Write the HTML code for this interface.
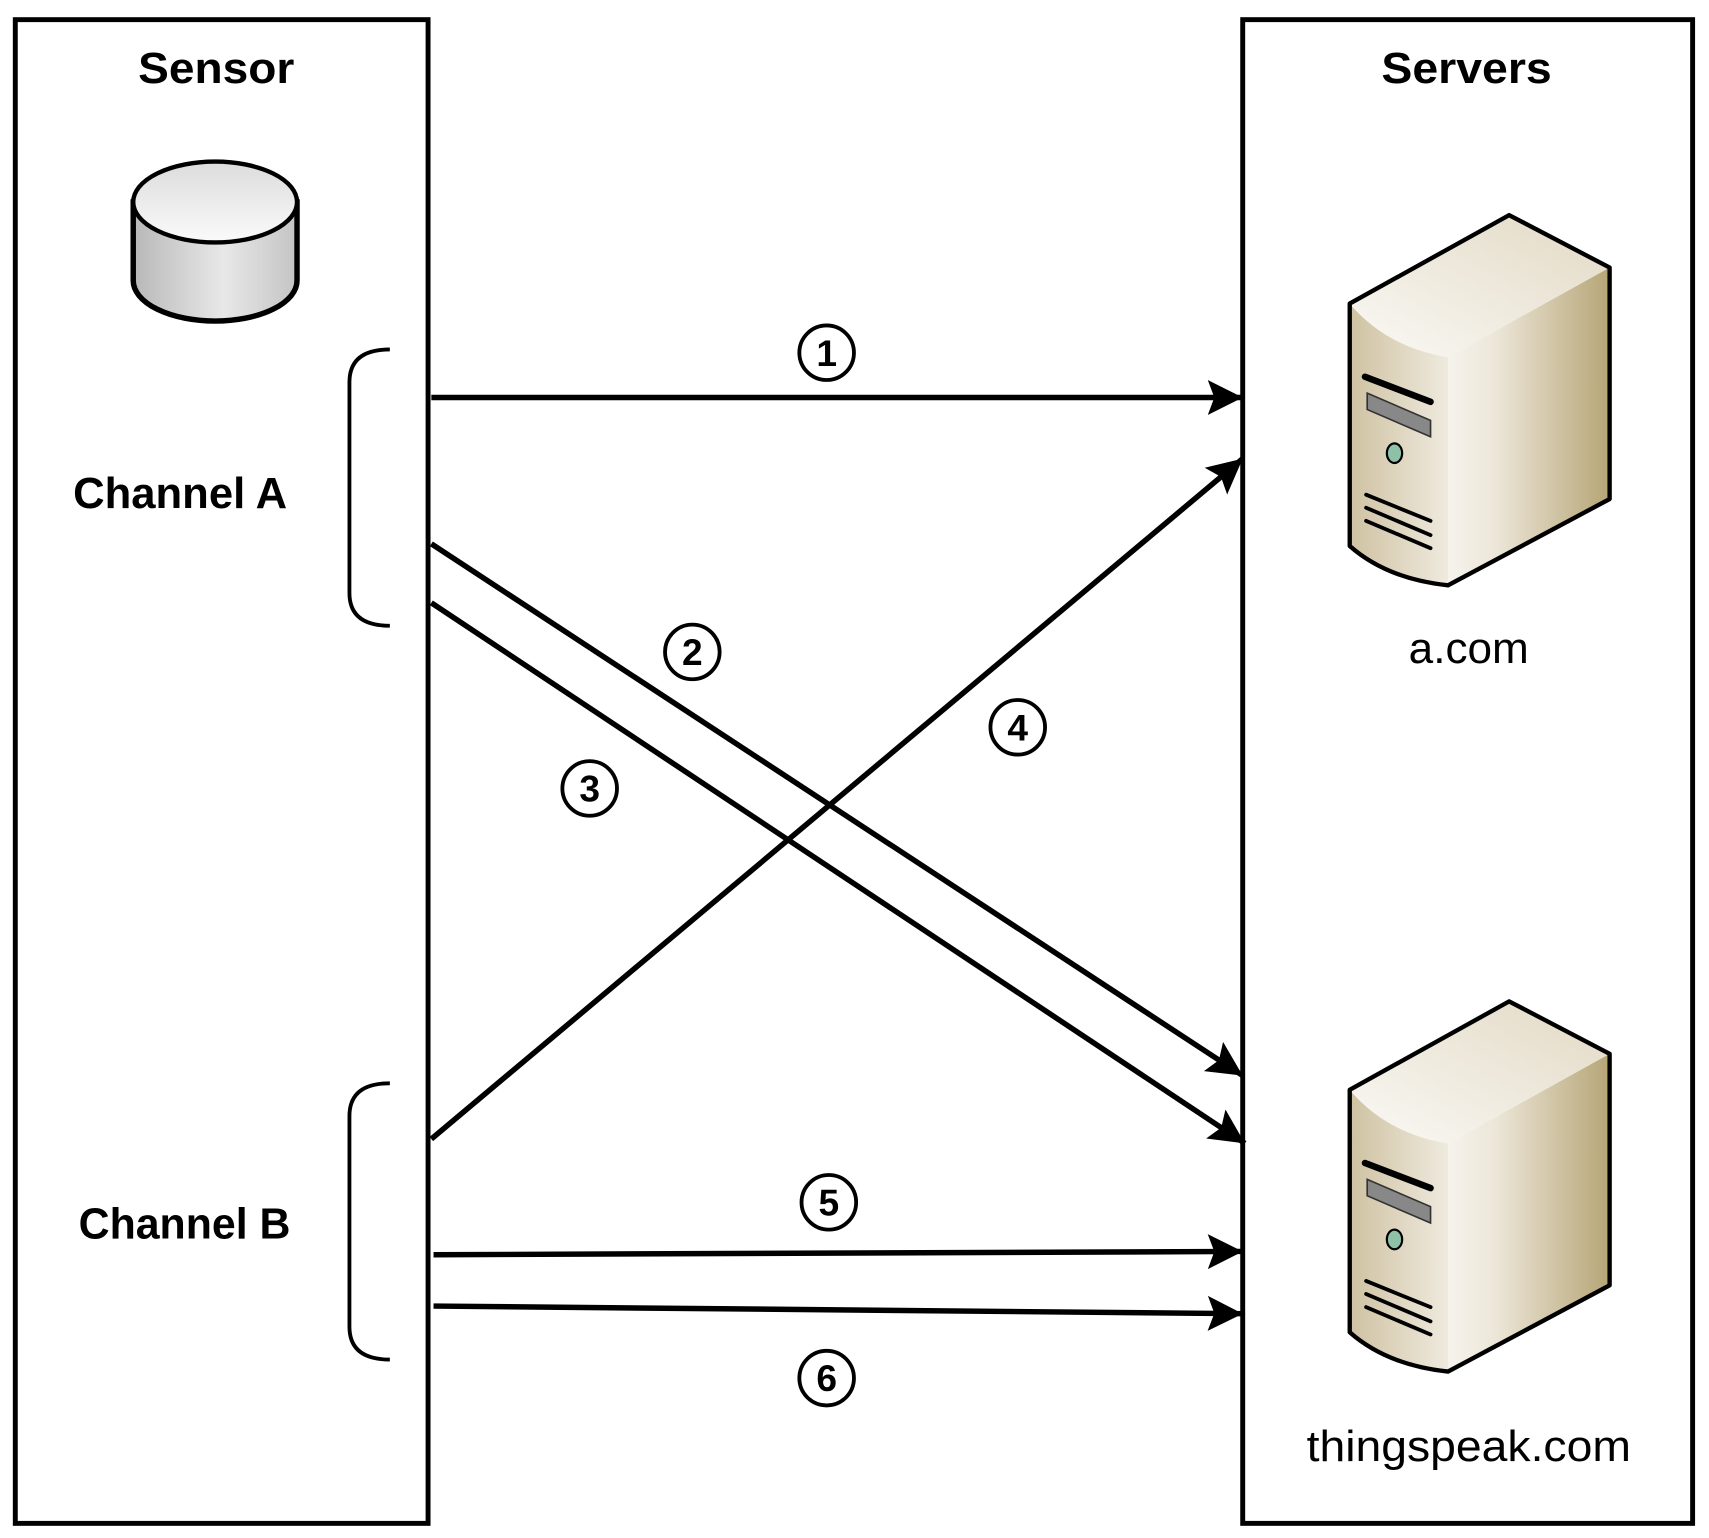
<!DOCTYPE html>
<html><head><meta charset="utf-8"><style>html,body{margin:0;padding:0;background:#fff}svg{display:block}</style></head>
<body>
<svg width="1709" height="1538" viewBox="0 0 1565 1408.4" xmlns="http://www.w3.org/2000/svg" preserveAspectRatio="none">
<defs>
<marker id="ah" markerUnits="userSpaceOnUse" markerWidth="40" markerHeight="40" viewBox="0 0 40 40" refX="32" refY="20" orient="auto">
<path d="M0,4 L32,20 L0,36 L6,20 Z" fill="#000"/>
</marker>
<linearGradient id="cyl" x1="0" x2="1" y1="0" y2="0"><stop offset="0" stop-color="#b8b8b8"/><stop offset="0.55" stop-color="#e8e8e8"/><stop offset="1" stop-color="#c4c4c4"/></linearGradient>
<linearGradient id="cyltop" x1="0" x2="0" y1="0" y2="1"><stop offset="0" stop-color="#dcdcdc"/><stop offset="1" stop-color="#fafafa"/></linearGradient>
<linearGradient id="front" x1="0" x2="1" y1="0" y2="0"><stop offset="0" stop-color="#cfc2a2"/><stop offset="1" stop-color="#efeadf"/></linearGradient>
<linearGradient id="side" x1="0" x2="1" y1="0" y2="0"><stop offset="0" stop-color="#f6f3ec"/><stop offset="0.3" stop-color="#ece6d8"/><stop offset="1" stop-color="#b6a576"/></linearGradient>
<linearGradient id="top" x1="0" x2="1" y1="1" y2="0"><stop offset="0" stop-color="#faf9f5"/><stop offset="1" stop-color="#e2d9c4"/></linearGradient>
<g id="server">
<path d="M1326,327 L1474,245 L1474,457 L1326,536 Z" fill="url(#side)"/>
<path d="M1236,278 Q1270,318 1326,327 L1326,536 Q1270,530 1236,500 Z" fill="url(#front)"/>
<path d="M1236,278 L1382,197 L1474,245 L1326,327 Q1270,318 1236,278 Z" fill="url(#top)"/>
<path d="M1236,278 L1382,197 L1474,245 L1474,457 L1326,536 Q1270,530 1236,500 Z" fill="none" stroke="#000" stroke-width="4" stroke-linejoin="round"/>
<path d="M1250,345 L1310,368" stroke="#000" stroke-width="6" stroke-linecap="round"/>
<path d="M1252,360 L1310,385 L1310,400 L1252,375 Z" fill="#888" stroke="#333" stroke-width="1.5"/>
<ellipse cx="1277" cy="415" rx="7" ry="9" fill="#8fc0a8" stroke="#000" stroke-width="2"/>
<path d="M1251,453 L1310,477 M1251,465 L1310,490 M1251,477 L1310,502" stroke="#000" stroke-width="3.5" stroke-linecap="round"/>
</g>
</defs>
<rect x="14" y="18" width="378" height="1377" fill="none" stroke="#000" stroke-width="4.5"/>
<rect x="1138" y="18" width="412" height="1377" fill="none" stroke="#000" stroke-width="4.5"/>
<g font-family="Liberation Sans, sans-serif" font-weight="bold" font-size="40" text-anchor="middle" fill="#000">
<text x="198" y="76" textLength="143" lengthAdjust="spacingAndGlyphs">Sensor</text>
<text x="1343" y="76" textLength="156" lengthAdjust="spacingAndGlyphs">Servers</text>
<text x="165" y="465" textLength="196" lengthAdjust="spacingAndGlyphs">Channel A</text>
<text x="169" y="1134" textLength="194" lengthAdjust="spacingAndGlyphs">Channel B</text>
</g>
<g font-family="Liberation Sans, sans-serif" font-size="40" text-anchor="middle" fill="#000">
<text x="1345" y="607" textLength="110" lengthAdjust="spacingAndGlyphs">a.com</text>
<text x="1345" y="1338" textLength="297" lengthAdjust="spacingAndGlyphs">thingspeak.com</text>
</g>
<path d="M122,185 L122,257 A75,37 0 0 0 272,257 L272,185 Z" fill="url(#cyl)" stroke="#000" stroke-width="5"/>
<ellipse cx="197" cy="185" rx="75" ry="37" fill="url(#cyltop)" stroke="#000" stroke-width="4"/>
<path d="M357,320 Q320,320 320,350 L320,543 Q320,573 357,573" fill="none" stroke="#000" stroke-width="3.5"/>
<path d="M357,992 Q320,992 320,1022 L320,1215 Q320,1245 357,1245" fill="none" stroke="#000" stroke-width="3.5"/>
<use href="#server"/>
<use href="#server" transform="translate(0,720)"/>
<g stroke="#000" stroke-width="5" fill="none" marker-end="url(#ah)">
<line x1="395" y1="364" x2="1138" y2="364"/>
<line x1="395" y1="498" x2="1138" y2="985"/>
<line x1="395" y1="552" x2="1140" y2="1047"/>
<line x1="395" y1="1043" x2="1138" y2="420"/>
<line x1="397" y1="1149" x2="1138" y2="1146"/>
<line x1="397" y1="1196" x2="1138" y2="1203"/>
</g>
<g font-family="Liberation Sans, sans-serif" font-weight="bold" font-size="34" text-anchor="middle" fill="#000">
<circle cx="757" cy="323" r="25" fill="none" stroke="#000" stroke-width="3.5"/><text x="757" y="335">1</text>
<circle cx="634" cy="597" r="25" fill="none" stroke="#000" stroke-width="3.5"/><text x="634" y="609">2</text>
<circle cx="540" cy="722" r="25" fill="none" stroke="#000" stroke-width="3.5"/><text x="540" y="734">3</text>
<circle cx="932" cy="666" r="25" fill="none" stroke="#000" stroke-width="3.5"/><text x="932" y="678">4</text>
<circle cx="759" cy="1101" r="25" fill="none" stroke="#000" stroke-width="3.5"/><text x="759" y="1113">5</text>
<circle cx="757" cy="1262" r="25" fill="none" stroke="#000" stroke-width="3.5"/><text x="757" y="1274">6</text>
</g>
</svg>
</body></html>
